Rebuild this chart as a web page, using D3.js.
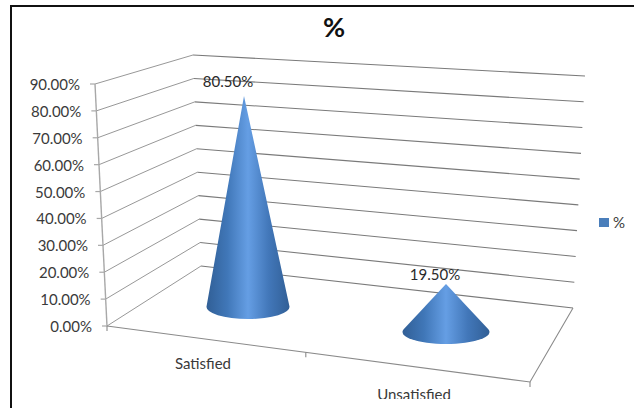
<!DOCTYPE html>
<html>
<head>
<meta charset="utf-8">
<script src="https://cdn.jsdelivr.net/npm/d3@7/dist/d3.min.js"></script>
<style>
  html, body { margin: 0; padding: 0; background: #fff; }
  svg { display: block; }
  text { font-family: Lato, "Open Sans", sans-serif; fill: #3a3a3a; }
</style>
</head>
<body>
<svg id="chart" width="634" height="408"></svg>
<script>
// Survey result: share of respondents by satisfaction
const categories = ["Satisfied", "Unsatisfied"];
const values = [80.5, 19.5];
const valueLabels = ["80.50%", "19.50%"];
const gridValues = [0, 10, 20, 30, 40, 50, 60, 70, 80, 90];
const tickLabels = ["0.00%", "10.00%", "20.00%", "30.00%", "40.00%", "50.00%", "60.00%", "70.00%", "80.00%", "90.00%"];
const seriesName = "%";

const svg = d3.select("#chart");
const defs = svg.append("defs");

// Horizontal shading that gives each cone its rounded look
const shade = defs.append("linearGradient").attr("id", "coneShade")
  .attr("x1", 0).attr("x2", 1).attr("y1", 0).attr("y2", 0);
[[0, "#315f96"], [0.25, "#4077b8"], [0.5, "#659ee4"], [0.75, "#4277b9"], [1, "#315f96"]]
  .forEach(([o, c]) => shade.append("stop").attr("offset", o).attr("stop-color", c));

defs.append("clipPath").attr("id", "plotClip")
  .append("rect").attr("x", 0).attr("y", 0).attr("width", 634).attr("height", 399);

// Outer frame runs off the right and bottom edges of the page
svg.append("path")
  .attr("d", "M11,408V6H634")
  .attr("fill", "none").attr("stroke", "#111").attr("stroke-width", 2);

svg.append("text").attr("x", 334).attr("y", 37)
  .attr("text-anchor", "middle")
  .attr("font-size", 27).attr("font-weight", 700)
  .style("fill", "#111").text(seriesName);

// The three vertical corners of the 3-D box, each with its own projection of the value axis
const corner = (xRange, yRange) => ({
  x: d3.scaleLinear().domain([0, 90]).range(xRange),
  y: d3.scaleLinear().domain([0, 90]).range(yRange)
});
const frontLeft = corner([107, 95], [326, 84]);
const backLeft = corner([201, 193], [266, 55]);
const backRight = corner([573, 585], [308, 76]);
const frontRightFloor = [530, 382];

// Gridlines: the side wall reads lighter than the back wall
const sideGrid = svg.append("g").attr("fill", "none").attr("stroke", "#989898").attr("stroke-width", 1);
sideGrid.selectAll("path").data(gridValues).join("path")
  .attr("d", v => d3.line()([
    [frontLeft.x(v), frontLeft.y(v)],
    [backLeft.x(v), backLeft.y(v)]
  ]));
const backGrid = svg.append("g").attr("fill", "none").attr("stroke", "#7a7a7a").attr("stroke-width", 1.1);
backGrid.selectAll("path").data(gridValues).join("path")
  .attr("d", v => d3.line()([
    [backLeft.x(v), backLeft.y(v)],
    [backRight.x(v), backRight.y(v)]
  ]));

// Value axis with its tick marks and labels
const axis = svg.append("g");
axis.append("line")
  .attr("x1", frontLeft.x(0)).attr("y1", frontLeft.y(0))
  .attr("x2", frontLeft.x(90)).attr("y2", frontLeft.y(90))
  .attr("stroke", "#a8a8a8").attr("stroke-width", 1.4);
axis.selectAll("line.tick").data(gridValues).join("line").attr("class", "tick")
  .attr("x1", v => frontLeft.x(v) - 5).attr("x2", v => frontLeft.x(v))
  .attr("y1", v => frontLeft.y(v)).attr("y2", v => frontLeft.y(v))
  .attr("stroke", "#a8a8a8").attr("stroke-width", 1.2);
axis.selectAll("text").data(gridValues).join("text")
  .attr("x", v => frontLeft.x(v) - 15)
  .attr("y", v => frontLeft.y(v) + 6)
  .attr("text-anchor", "end")
  .attr("font-size", 15)
  .text((v, i) => tickLabels[i]);

// Floor outline
const floorFront = d3.scaleLinear().domain([0, 1])
  .range([frontLeft.x(0), frontRightFloor[0]]);
const floorFrontY = d3.scaleLinear().domain([0, 1])
  .range([frontLeft.y(0), frontRightFloor[1]]);
const floor = svg.append("g").attr("fill", "none").attr("stroke", "#8a8a8a").attr("stroke-width", 1.1);
floor.append("path").attr("d", d3.line()([
  [frontLeft.x(0), frontLeft.y(0)],
  frontRightFloor,
  [backRight.x(0), backRight.y(0)]
]));
floor.selectAll("line").data([0, 0.47, 1]).join("line")
  .attr("x1", t => floorFront(t)).attr("x2", t => floorFront(t))
  .attr("y1", t => floorFrontY(t)).attr("y2", t => floorFrontY(t) + 5);

// Cone placement on the floor, one position per category
const pos = d3.scalePoint().domain(categories).range([0, 1]);
const baseX = d3.scaleLinear().domain([0, 1]).range([248, 446]);
const baseY = d3.scaleLinear().domain([0, 1]).range([307, 332]);
const tipX = d3.scaleLinear().domain([0, 1]).range([244, 446]);
const radiusX = d3.scaleLinear().domain([0, 1]).range([41.5, 43.5]);
const radiusY = 12;
// Slight foreshortening of height towards taller values
const coneHeight = d3.scalePow().exponent(1.044).domain([0, 90]).range([0, 237]);

const conePath = (cat, v) => {
  const t = pos(cat), cx = baseX(t), cy = baseY(t), rx = radiusX(t);
  const h = coneHeight(v), k = radiusY / h;
  const dx = rx * Math.sqrt(1 - k * k), dy = radiusY * k;
  // Apex, down to the tangent point, round the near side of the base, back up
  return `M${tipX(t)},${cy - h}L${cx - dx},${cy - dy}` +
    `A${rx},${radiusY} 0 1 0 ${cx + dx},${cy - dy}Z`;
};

svg.append("g").selectAll("path").data(categories).join("path")
  .attr("d", (c, i) => conePath(c, values[i]))
  .attr("fill", "url(#coneShade)");

// Value labels sit above each cone
const labelX = d3.scaleLinear().domain([0, 1]).range([228, 435]);
const labelGap = d3.scaleLinear().domain([0, 1]).range([9, 4]);
svg.append("g").selectAll("text").data(categories).join("text")
  .attr("x", c => labelX(pos(c)))
  .attr("y", (c, i) => baseY(pos(c)) - coneHeight(values[i]) - labelGap(pos(c)))
  .attr("text-anchor", "middle")
  .attr("font-size", 15)
  .style("fill", "#2a2a2a")
  .text((c, i) => valueLabels[i]);

// Category labels; the lower one is cut by the plot area
const catX = d3.scaleLinear().domain([0, 1]).range([203, 414]);
const catY = d3.scaleLinear().domain([0, 1]).range([369, 400]);
svg.append("g").attr("clip-path", "url(#plotClip)")
  .selectAll("text").data(categories).join("text")
  .attr("x", c => catX(pos(c)))
  .attr("y", c => catY(pos(c)))
  .attr("text-anchor", "middle")
  .attr("font-size", 15)
  .text(c => c);

// Legend
const legend = svg.append("g");
legend.append("rect").attr("x", 599).attr("y", 218).attr("width", 10).attr("height", 9).attr("fill", "#4a7ebb");
legend.append("text").attr("x", 613).attr("y", 228).attr("font-size", 15).text(seriesName);
</script>
</body>
</html>
